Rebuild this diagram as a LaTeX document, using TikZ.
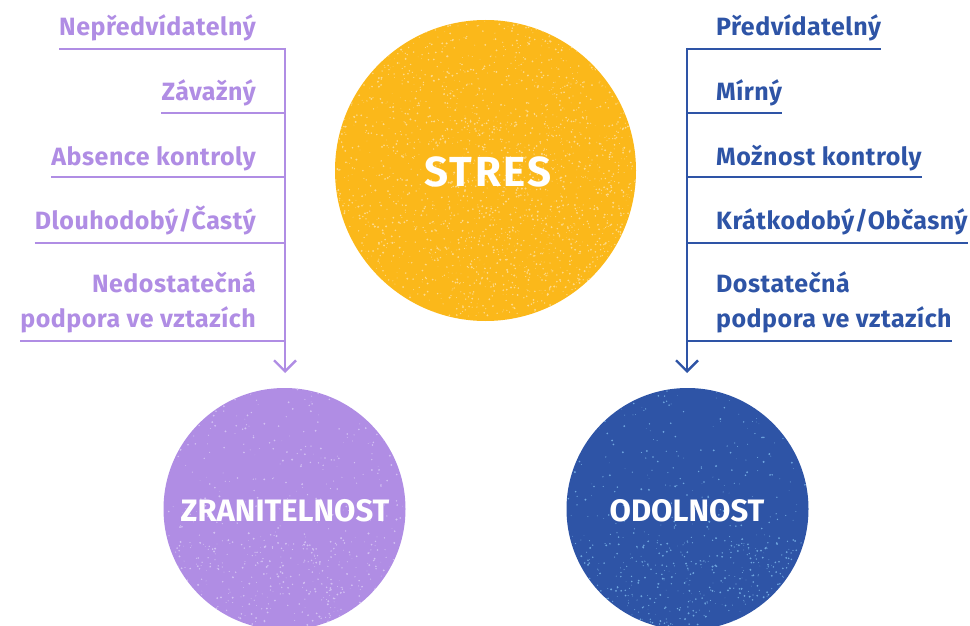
\documentclass[tikz,border=0pt]{standalone}
\usepackage{fontspec}
\setmainfont{Fira Sans}
\newfontfamily\lblfont{Fira Sans}[LetterSpace=2]
\newfontfamily\bigfont{Fira Sans}[LetterSpace=6]
\usetikzlibrary{arrows.meta}
\definecolor{cyellow}{HTML}{FBB81A}
\definecolor{cpurple}{HTML}{B08DE4}
\definecolor{cblue}{HTML}{2E54A6}
\definecolor{syellow}{HTML}{FDD98A}
\definecolor{spurple}{HTML}{D2BFF2}
\definecolor{sblue}{HTML}{6FA6DE}
\tikzset{
  lbl/.style={inner sep=0pt, font=\lblfont\bfseries\fontsize{25}{28}\selectfont},
  lleft/.style={lbl, text=cpurple, anchor=base east},
  lright/.style={lbl, text=cblue, anchor=base west},
  pline/.style={draw=cpurple, line width=2.4pt},
  bline/.style={draw=cblue, line width=2.4pt},
  blob/.style={circle, inner sep=0pt, minimum size=#1},
  ctext/.style={inner sep=0pt, text=white, font=\bfseries\fontsize{31}{34}\selectfont},
  tip/.style={-{Straight Barb[length=11pt,width=22pt,line width=2.4pt]}},
}
\begin{document}
\begin{tikzpicture}[x=1pt,y=1pt]
\useasboundingbox (0,0) rectangle (970,-626);
% circles
\node[blob=301pt, fill=cyellow] (stres) at (485.5,-170.5) {};
\node[blob=242pt, fill=cpurple] (zran) at (284.5,-509) {};
\node[blob=242pt, fill=cblue] (odol) at (687.5,-509) {};
\pgfmathsetseed{7}
\begin{scope}
\clip (485.5,-170.5) circle (150.5);
\foreach \i in {1,...,2000}{\fill[syellow] (485.5+150.5*rand,-170.5+150.5*rand) circle ({0.3+0.8*rnd});}
\foreach \i in {1,...,400}{\fill[syellow] (540+90*rand,-210+90*rand) circle ({0.3+0.8*rnd});}
\end{scope}
\begin{scope}
\clip (284.5,-509) circle (121);
\foreach \i in {1,...,400}{\fill[spurple] (284.5+121*rand,-509+121*rand) circle ({0.3+0.8*rnd});}
\foreach \i in {1,...,300}{\fill[spurple] (284.5+110*rand,-585+45*rand) circle ({0.3+0.8*rnd});}
\end{scope}
\begin{scope}
\clip (687.5,-509) circle (121);
\foreach \i in {1,...,400}{\fill[sblue] (687.5+121*rand,-509+121*rand) circle ({0.3+0.8*rnd});}
\foreach \i in {1,...,300}{\fill[sblue] (687.5+110*rand,-585+45*rand) circle ({0.3+0.8*rnd});}
\end{scope}
\node[ctext, font=\bigfont\bfseries\fontsize{42}{46}\selectfont] (stresT) at (488,-172) {STRES};
\node[ctext] (zranT) at (285,-510.5) {ZRANITELNOST};
\node[ctext] (odolT) at (687,-510.5) {ODOLNOST};
% left labels
\node[lleft] (a1) at (256,-36) {Nepředvídatelný};
\node[lleft] (a2) at (256,-100) {Závažný};
\node[lleft] (a3) at (256,-165) {Absence kontroly};
\node[lleft] (a4) at (256,-229) {Dlouhodobý/Častý};
\node[lleft] (a5) at (256,-292) {Nedostatečná};
\node[lleft] (a6) at (256,-327) {podpora ve vztazích};
\coordinate (av) at (285,-49);
\coordinate (ah2) at (285,-113);
\coordinate (ah3) at (285,-177);
\coordinate (ah4) at (285,-243);
\coordinate (ah5) at (285,-341);
\coordinate (aend) at (285,-373);
\draw[pline] (a1.west |- av) -- (av);
\draw[pline] (a2.west |- ah2) -- (ah2);
\draw[pline] (a3.west |- ah3) -- (ah3);
\draw[pline] (a4.west |- ah4) -- (ah4);
\draw[pline] (a6.west |- ah5) -- (ah5);
\draw[pline, tip] ([yshift=1.2pt]av) -- (aend);
% right labels
\node[lright] (b1) at (716,-36) {Předvídatelný};
\node[lright] (b2) at (716,-100) {Mírný};
\node[lright] (b3) at (716,-165) {Možnost kontroly};
\node[lright] (b4) at (716,-229) {Krátkodobý/Občasný};
\node[lright] (b5) at (716,-292) {Dostatečná};
\node[lright] (b6) at (716,-327) {podpora ve vztazích};
\coordinate (bv) at (687,-49);
\coordinate (bh2) at (687,-113);
\coordinate (bh3) at (687,-177);
\coordinate (bh4) at (687,-243);
\coordinate (bh5) at (687,-341);
\coordinate (bend) at (687,-373);
\draw[bline] (bv) -- (b1.east |- bv);
\draw[bline] (bh2) -- (b2.east |- bh2);
\draw[bline] (bh3) -- (b3.east |- bh3);
\draw[bline] (bh4) -- (b4.east |- bh4);
\draw[bline] (bh5) -- (b6.east |- bh5);
\draw[bline, tip] ([yshift=1.2pt]bv) -- (bend);
\end{tikzpicture}
\end{document}
